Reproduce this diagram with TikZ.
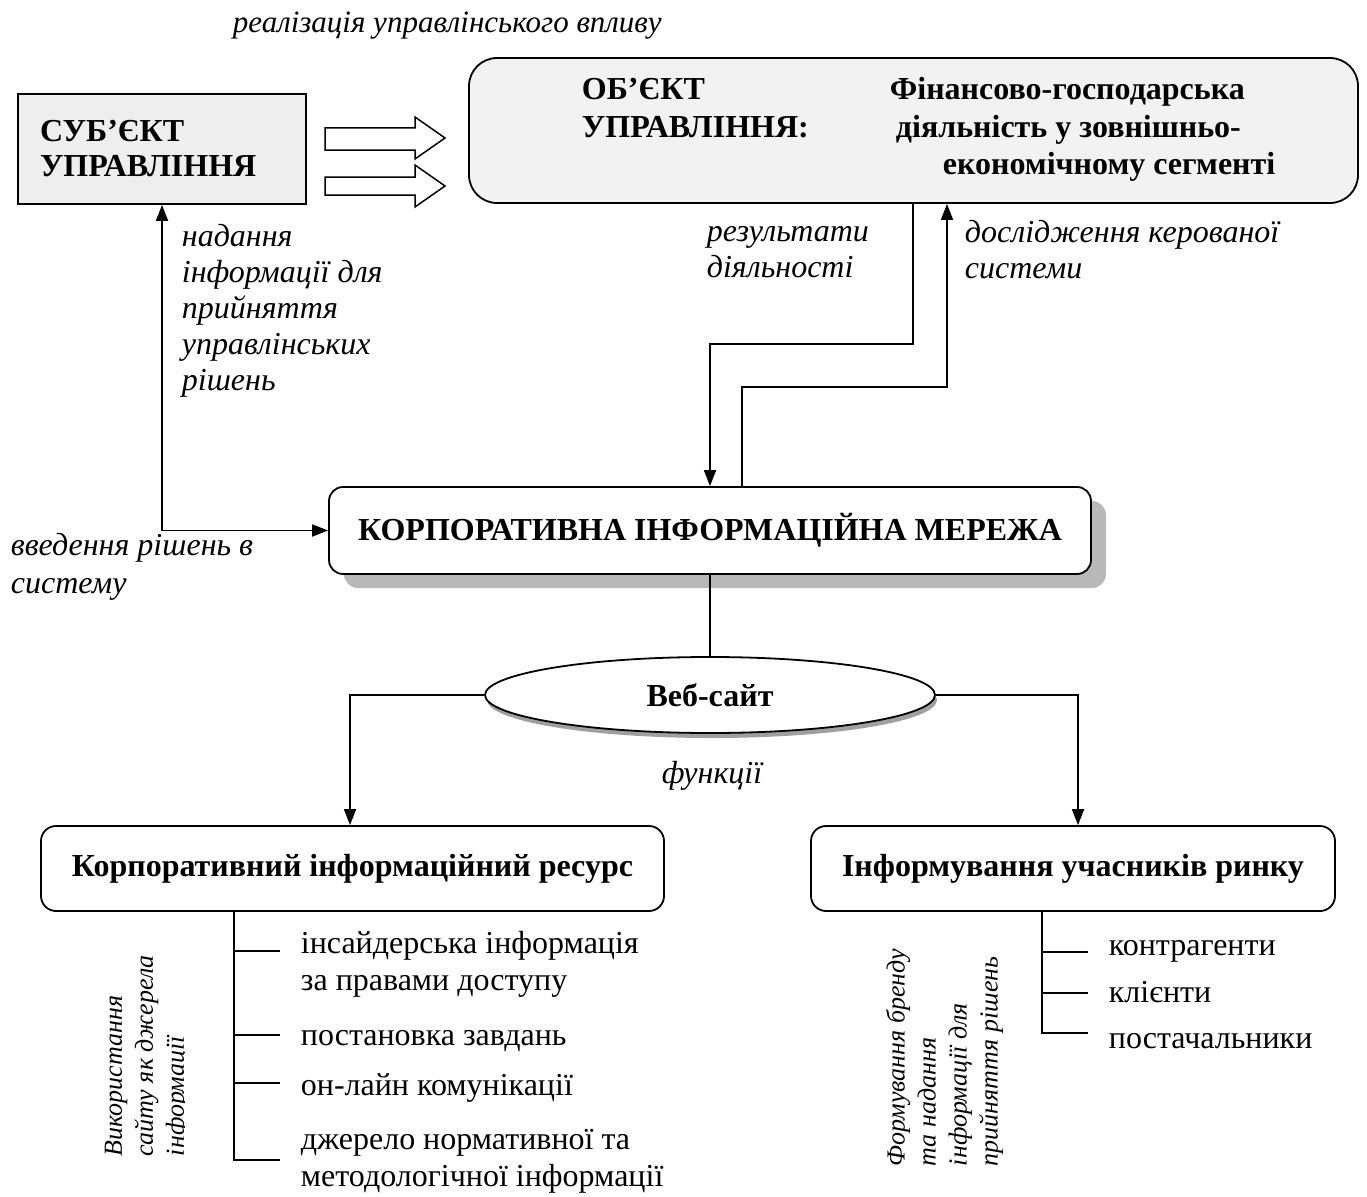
\documentclass[tikz,border=0pt]{standalone}
\usepackage{fontspec}
\setmainfont{Liberation Serif}
\usetikzlibrary{shapes.geometric,arrows.meta,shadows}
\definecolor{subgray}{HTML}{EEEEEE}
\definecolor{objgray}{HTML}{F2F2F2}
\definecolor{shadowgray}{HTML}{B8B8B8}
\begin{document}
\begin{tikzpicture}[x=1pt,y=-1pt,line width=1.8pt,
  arr/.style={-{Triangle[length=16pt,width=12pt]}},
  arrboth/.style={{Triangle[length=16pt,width=12pt]}-{Triangle[length=16pt,width=12pt]}},
  it/.style={font=\fontsize{32}{36}\selectfont\itshape, inner sep=0pt, align=left},
  rg/.style={font=\fontsize{32}{37}\selectfont, inner sep=0pt},
  bd/.style={font=\fontsize{32}{35}\selectfont\bfseries, inner sep=0pt},
  rot/.style={font=\fontsize{26}{31}\selectfont\itshape, inner sep=0pt, align=left, rotate=90, anchor=north west},
  blockarrow/.style={draw, fill=white, line width=1.5pt},
  box/.style={draw, fill=white}]
\useasboundingbox (0,0) rectangle (1367,1196);

% top label
\node[font=\fontsize{31}{36}\selectfont\itshape, inner sep=0pt, anchor=base west] (topl) at (232,33) {реалізація управлінського впливу};

% subject box
\node[box, fill=subgray, minimum width=288pt, minimum height=110pt, text width=244pt,
      inner xsep=22pt, align=left, bd] (sub) at (162,149) {СУБ’ЄКТ\\УПРАВЛІННЯ};

% block arrows
\draw[blockarrow] (325,128) -- (415,128) -- (415,117) -- (445,138) -- (415,159) -- (415,150) -- (325,150) -- cycle;
\draw[blockarrow] (325,177) -- (415,177) -- (415,165) -- (445,186) -- (415,207) -- (415,195) -- (325,195) -- cycle;

% object box
\node[box, fill=objgray, rounded corners=28pt, minimum width=889pt, minimum height=145pt] (obj) at (913.5,130.5) {};
\node[bd, anchor=base west] (o1) at (581,100) {ОБ’ЄКТ};
\node[bd, anchor=base west] (o2) at (581,138) {УПРАВЛІННЯ:};
\node[bd, anchor=base west] (o3) at (889,100) {Фінансово-господарська};
\node[bd, anchor=base west] (o4) at (895,137) {діяльність у зовнішньо-};
\node[bd, anchor=base west] (o5) at (942,174) {економічному сегменті};

% corporate network
\node[box, rounded corners=14pt, minimum width=762pt, minimum height=87pt, bd,
      drop shadow={shadow xshift=15pt, shadow yshift=-14pt, fill=shadowgray, opacity=1}] (kim) at (710,530.5) {КОРПОРАТИВНА ІНФОРМАЦІЙНА МЕРЕЖА};

% website ellipse
\node[box, ellipse, minimum width=450pt, minimum height=76pt, bd,
      drop shadow={shadow xshift=2pt, shadow yshift=-5pt, fill=gray!75, opacity=1}] (web) at (710,695) {Веб-сайт};

% lower boxes
\node[box, rounded corners=15pt, minimum width=623pt, minimum height=85pt, bd] (crb) at (352.5,868.5) {Корпоративний інформаційний ресурс};
\node[box, rounded corners=15pt, minimum width=524pt, minimum height=85pt, bd] (inf) at (1073,868.5) {Інформування учасників ринку};

% labels
\node[it, anchor=north west] (l1) at (181,223) {надання\\інформації для\\прийняття\\управлінських\\рішень};
\node[it, anchor=north west, align=left, font=\fontsize{32}{38}\selectfont\itshape] (l2) at (10,532) {введення рішень в\\систему};
\node[it, anchor=north west] (l3) at (706,226) {результати\\діяльності};
\node[it, anchor=north west] (l4) at (964,219) {дослідження керованої\\системи};
\node[it, anchor=base] (fn) at (712,783) {функції};

% connectors
\draw[arrboth] (sub.south) |- (kim.west);
\draw[arr] ([xshift=-0.5pt]obj.south) -- ++(0,140) -| (kim.north);
\draw[arr] ([xshift=32pt]kim.north) -- ++(0,-99) -| ([xshift=33.5pt]obj.south);
\draw (kim.south) -- (web.north);
\draw[arr] (web.west) -| ([xshift=-2.5pt]crb.north);
\draw[arr] (web.east) -| ([xshift=5pt]inf.north);

% left list
\node[rg, anchor=base west] (a1) at (300,953) {інсайдерська інформація};
\node[rg, anchor=base west] (a2) at (300,990) {за правами доступу};
\node[rg, anchor=base west] (a3) at (300,1045) {постановка завдань};
\node[rg, anchor=base west] (a4) at (300,1095) {он-лайн комунікації};
\node[rg, anchor=base west] (a5) at (300,1149) {джерело нормативної та};
\node[rg, anchor=base west] (a6) at (300,1186) {методологічної інформації};
\coordinate (ct1) at (280,951);
\coordinate (ct2) at (280,1035);
\coordinate (ct3) at (280,1083);
\coordinate (ct4) at (280,1160);
\coordinate (cv) at ([xshift=-118.5pt]crb.south);
\draw (cv) |- (ct4);
\draw (cv |- ct1) -- (ct1);
\draw (cv |- ct2) -- (ct2);
\draw (cv |- ct3) -- (ct3);

% right list
\node[rg, anchor=base west] (b1) at (1108,955) {контрагенти};
\node[rg, anchor=base west] (b2) at (1108,1002) {клієнти};
\node[rg, anchor=base west] (b3) at (1108,1048) {постачальники};
\coordinate (dt1) at (1088,952);
\coordinate (dt2) at (1088,993);
\coordinate (dt3) at (1088,1033);
\coordinate (dv) at ([xshift=-31pt]inf.south);
\draw (dv) |- (dt3);
\draw (dv |- dt1) -- (dt1);
\draw (dv |- dt2) -- (dt2);

% rotated labels
\begin{scope}
\clip (0,900) rectangle (184,1196);
\node[rot] (vl) at (104,1157) {Використання\\сайту як джерела\\інформації};
\end{scope}
\node[rot] (vr) at (885,1167) {Формування бренду\\та надання\\інформації для\\прийняття рішень};
\end{tikzpicture}
\end{document}
